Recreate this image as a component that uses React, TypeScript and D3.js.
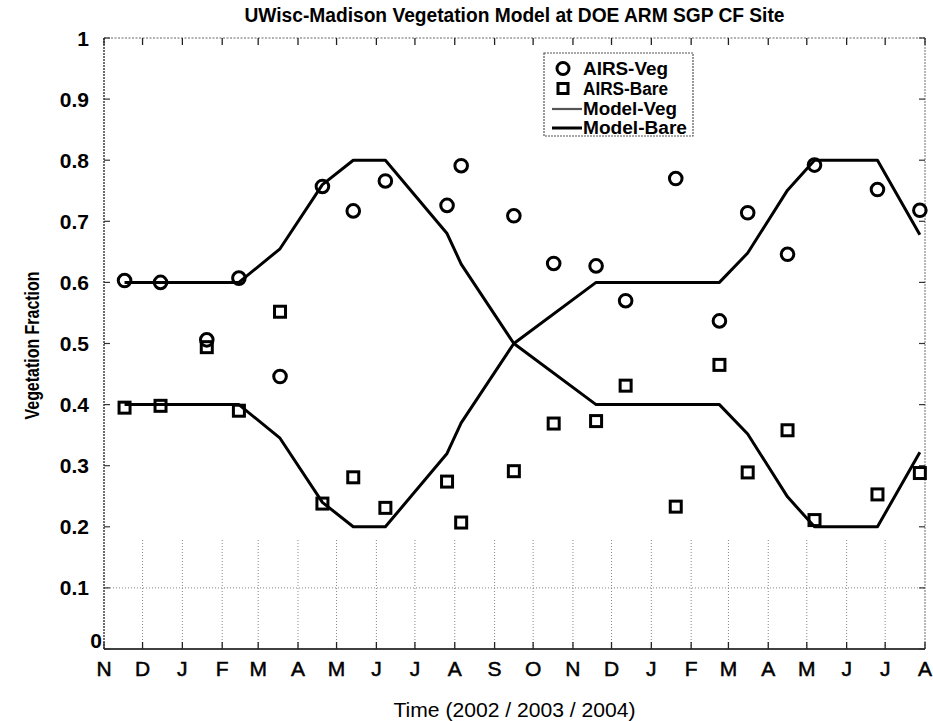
import React from "react";
import * as d3 from "d3";

// AIRS retrieval dates and fractions
const obsDates = [
  "2002-11-17", "2002-12-15", "2003-01-20", "2003-02-14", "2003-03-18",
  "2003-04-20", "2003-05-14", "2003-06-08", "2003-07-26", "2003-08-06",
  "2003-09-16", "2003-10-17", "2003-11-19", "2003-12-12", "2004-01-20",
  "2004-02-23", "2004-03-16", "2004-04-16", "2004-05-07", "2004-06-25",
  "2004-07-28",
];
const airsVeg = [
  0.603, 0.6, 0.506, 0.607, 0.446, 0.757, 0.717, 0.766, 0.726, 0.791,
  0.709, 0.631, 0.627, 0.57, 0.77, 0.537, 0.714, 0.646, 0.792, 0.752, 0.718,
];
const airsBare = [
  0.395, 0.398, 0.494, 0.39, 0.552, 0.238, 0.281, 0.231, 0.274, 0.207,
  0.291, 0.369, 0.373, 0.431, 0.233, 0.465, 0.289, 0.358, 0.211, 0.253, 0.288,
];

// Model breakpoints
const modelDates = [
  "2002-11-17", "2003-02-14", "2003-03-18", "2003-04-20", "2003-05-14",
  "2003-06-08", "2003-07-26", "2003-08-06", "2003-09-16", "2003-11-19",
  "2004-02-23", "2004-03-16", "2004-04-16", "2004-05-07", "2004-06-25",
  "2004-07-28",
];
const modelVeg = [
  0.6, 0.6, 0.655, 0.76, 0.8, 0.8, 0.68, 0.63, 0.5, 0.6,
  0.6, 0.648, 0.751, 0.8, 0.8, 0.678,
];
const modelBare = [
  0.4, 0.4, 0.345, 0.24, 0.2, 0.2, 0.32, 0.37, 0.5, 0.4,
  0.4, 0.352, 0.249, 0.2, 0.2, 0.322,
];

const yTicks = [0, 0.1, 0.2, 0.3, 0.4, 0.5, 0.6, 0.7, 0.8, 0.9, 1];
const yTickLabels = ["0", "0.1", "0.2", "0.3", "0.4", "0.5", "0.6", "0.7", "0.8", "0.9", "1"];
const legendLabels = ["AIRS-Veg", "AIRS-Bare", "Model-Veg", "Model-Bare"];

const W = 933;
const H = 721;
const left = 104;
const right = 925;
const top = 38;
const bottom = 649;

const parse = d3.timeParse("%Y-%m-%d");
const FONT = "'Liberation Sans', Arial, sans-serif";

export default function App() {
  const x = d3
    .scaleTime()
    .domain([new Date(2002, 10, 1), new Date(2004, 7, 1)])
    .range([left, right]);
  const y = d3.scaleLinear().domain([0, 1]).range([bottom, top]);

  const months = d3.timeMonth.range(new Date(2002, 10, 1), new Date(2004, 7, 2));
  const monthLetter = (d: Date) => d3.timeFormat("%b")(d).charAt(0);

  const obs = obsDates.map((s, i) => ({ d: parse(s) as Date, veg: airsVeg[i], bare: airsBare[i] }));
  const model = modelDates.map((s, i) => ({ d: parse(s) as Date, veg: modelVeg[i], bare: modelBare[i] }));

  const vegLine = d3
    .line<{ d: Date; veg: number; bare: number }>()
    .x((p) => x(p.d))
    .y((p) => y(p.veg));
  const bareLine = d3
    .line<{ d: Date; veg: number; bare: number }>()
    .x((p) => x(p.d))
    .y((p) => y(p.bare));

  const sq = 11;
  const lgX = 544;
  const lgY = 53;
  const rowY = [68.5, 88.5, 109, 128];

  return (
    <svg
      width={W}
      height={H}
      style={{ position: "absolute", left: 0, top: 0, background: "#fff" }}
      fontFamily={FONT}
    >
      <rect x={0} y={0} width={W} height={H} fill="#fff" />

      {/* title */}
      <text
        x={(left + right) / 2}
        y={22}
        textAnchor="middle"
        fontSize={20}
        fontWeight="bold"
        textLength={540}
        lengthAdjust="spacingAndGlyphs"
      >
        UWisc-Madison Vegetation Model at DOE ARM SGP CF Site
      </text>

      {/* lower grid band */}
      <g stroke="#888" strokeWidth={1} strokeDasharray="1,2">
        {months.slice(1, -1).map((m, i) => (
          <line key={i} x1={x(m)} x2={x(m)} y1={y(0)} y2={y(0.18)} />
        ))}
        <line x1={left} x2={right} y1={y(0.1)} y2={y(0.1)} />
      </g>

      {/* axes box */}
      <line x1={left} x2={right} y1={top} y2={top} stroke="#666" strokeWidth={1.2} strokeDasharray="2,1.5" />
      <line x1={right} x2={right} y1={top} y2={bottom} stroke="#888" strokeWidth={1.2} strokeDasharray="2,1" />
      <line x1={left} x2={left} y1={top} y2={bottom} stroke="#333" strokeWidth={1.4} strokeDasharray="2,1" />
      <line x1={left} x2={right} y1={bottom} y2={bottom} stroke="#000" strokeWidth={1.6} />

      {/* month ticks */}
      <g stroke="#222" strokeWidth={1.3}>
        {months.map((m, i) => (
          <g key={i}>
            <line x1={x(m)} x2={x(m)} y1={bottom} y2={bottom - 7} />
            <line x1={x(m)} x2={x(m)} y1={top} y2={top + 7} />
          </g>
        ))}
      </g>
      <g fontSize={21} textAnchor="middle" stroke="#000" strokeWidth={0.5}>
        {months.map((m, i) => (
          <text key={i} x={x(m)} y={676}>
            {monthLetter(m)}
          </text>
        ))}
      </g>

      {/* value ticks */}
      <g stroke="#333" strokeWidth={1.2}>
        {yTicks.map((t, i) => (
          <g key={i}>
            <line x1={left} x2={left + 6} y1={y(t)} y2={y(t)} />
            <line x1={right} x2={right - 6} y1={y(t)} y2={y(t)} />
          </g>
        ))}
      </g>
      <g fontSize={21} fontWeight="bold" textAnchor="end">
        {yTicks.map((t, i) =>
          t === 0 ? (
            <text key={i} x={102} y={y(t) - 1}>
              {yTickLabels[i]}
            </text>
          ) : (
            <text key={i} x={89} y={y(t) + 7.5}>
              {yTickLabels[i]}
            </text>
          )
        )}
      </g>

      {/* axis titles */}
      <text
        transform={`translate(39,${(top + bottom) / 2 + 2}) rotate(-90)`}
        textAnchor="middle"
        fontSize={20}
        fontWeight="bold"
        textLength={148}
        lengthAdjust="spacingAndGlyphs"
      >
        Vegetation Fraction
      </text>
      <text x={(left + right) / 2} y={717} textAnchor="middle" fontSize={20} textLength={242} lengthAdjust="spacingAndGlyphs">
        Time (2002 / 2003 / 2004)
      </text>

      {/* model curves */}
      <path d={vegLine(model) || ""} fill="none" stroke="#000" strokeWidth={3} strokeLinejoin="round" />
      <path d={bareLine(model) || ""} fill="none" stroke="#000" strokeWidth={3} strokeLinejoin="round" />

      {/* AIRS markers */}
      <g fill="none" stroke="#000" strokeWidth={3}>
        {obs.map((p, i) => (
          <circle key={`c${i}`} cx={x(p.d)} cy={y(p.veg)} r={6.3} />
        ))}
        {obs.map((p, i) => (
          <rect key={`s${i}`} x={x(p.d) - sq / 2} y={y(p.bare) - sq / 2} width={sq} height={sq} />
        ))}
      </g>

      {/* legend */}
      <rect x={lgX} y={lgY} width={149} height={83} fill="#fff" stroke="#555" strokeWidth={1.2} strokeDasharray="2,1" />
      <circle cx={563} cy={rowY[0]} r={6} fill="none" stroke="#000" strokeWidth={3} />
      <rect x={563 - 5} y={rowY[1] - 5} width={10} height={10} fill="none" stroke="#000" strokeWidth={3} />
      <line x1={552} x2={582} y1={rowY[2]} y2={rowY[2]} stroke="#555" strokeWidth={2.2} />
      <line x1={552} x2={582} y1={rowY[3]} y2={rowY[3]} stroke="#000" strokeWidth={3} />
      <g fontSize={17.5} fontWeight="bold">
        {legendLabels.map((l, i) => (
          <text key={i} x={583} y={rowY[i] + 6} textLength={i < 2 ? 85 : i === 2 ? 94 : 104} lengthAdjust="spacingAndGlyphs">
            {l}
          </text>
        ))}
      </g>
    </svg>
  );
}
